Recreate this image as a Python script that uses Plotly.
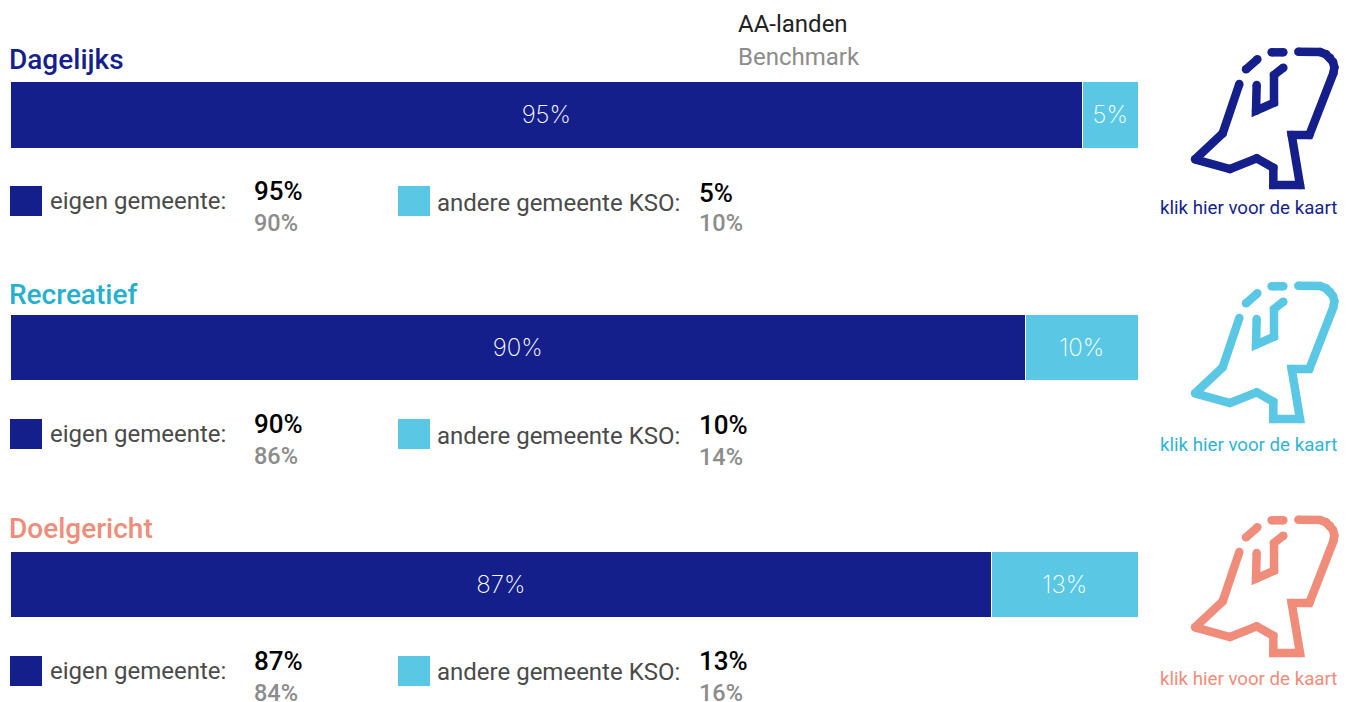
import plotly.graph_objects as go

W, H = 1349, 702

# ---- data ----
categories = ["Dagelijks", "Recreatief", "Doelgericht"]
eigen = [95, 90, 87]
andere = [5, 10, 13]
bench_eigen = [90, 86, 84]
bench_andere = [10, 14, 16]
label_eigen = "eigen gemeente:"
label_andere = "andere gemeente KSO:"
link_text = "klik hier voor de kaart"
head_main = "AA-landen"
head_bench = "Benchmark"

# ---- style ----
NAVY = "#151f8c"
LIGHT = "#5ac8e5"
title_colors = [NAVY, "#27afcf", "#f08c7a"]
icon_colors = [NAVY, LIGHT, "#f08c7a"]
link_colors = [NAVY, "#2fb5d5", "#f08c7a"]
bar_tops = [82, 315, 552]
bar_bottoms = [149, 381, 618]
title_y = [59, 294, 528]
sw_top = [186, 419, 656]
lab1_y = [201, 434, 671]
lab2_y = [203, 436, 672]
val_y = [[191, 223], [424, 456], [661, 693]]
val2_y = [[193, 223], [425, 457], [661, 693]]
link_y = [208, 445, 679]
icon_dy = [0, 234, 468]
BAR_L, BAR_R = 11, 1139

# icon outline in zoom-crop coordinates of the first icon (scale 3, origin 1150,30)
icon_parts = [
    [(268,162),(218,310),(135,388),(240,417),(320,385),(370,413),(370,465),(450,465),
     (425,315),(478,315),(550,130),(553,112),(549,96),(540,83),(528,73),(510,66),(445,65)],
    [(320,165),(318,242),(372,218),(372,135),(400,113)],
    [(288,118),(322,88)],
    [(365,67),(400,67)],
]

fig = go.Figure()

layout = dict(
    width=W, height=H, margin=dict(l=0, r=0, t=0, b=0, pad=0, autoexpand=False),
    paper_bgcolor="white", plot_bgcolor="rgba(0,0,0,0)",
    barmode="stack", bargap=0, showlegend=False,
    font=dict(family="Roboto", color="#444444"),
)

for i, cat in enumerate(categories):
    n = i + 1
    xa = "x" if i == 0 else f"x{n}"
    ya = "y" if i == 0 else f"y{n}"
    for val, col in ((eigen[i], NAVY), (andere[i], LIGHT)):
        fig.add_trace(go.Bar(
            x=[val], y=[cat], orientation="h", xaxis=xa, yaxis=ya,
            marker=dict(color=col, line=dict(color="white", width=1.5)),
            text=[f"{val}%"], textposition="inside", insidetextanchor="middle",
            textangle=0, constraintext="none",
            textfont=dict(family="Inter", size=24, color="white", weight=200),
            hoverinfo="skip",
        ))
    layout["xaxis" if i == 0 else f"xaxis{n}"] = dict(
        domain=[BAR_L / W, BAR_R / W], range=[0, 100], visible=False, fixedrange=True)
    layout["yaxis" if i == 0 else f"yaxis{n}"] = dict(
        domain=[1 - bar_bottoms[i] / H, 1 - bar_tops[i] / H], visible=False, fixedrange=True,
        anchor=xa)

# full-figure pixel overlay for texts, swatches and icons
layout["xaxis4"] = dict(domain=[0, 1], range=[0, W], visible=False, fixedrange=True)
layout["yaxis4"] = dict(domain=[0, 1], range=[H, 0], visible=False, fixedrange=True, anchor="x4")

annotations, shapes = [], []
PAD = 2  # annotation box padding

def txt(x, y, s, size, color, weight=400, anchor="left"):
    annotations.append(dict(
        x=x - PAD if anchor == "left" else x, y=y, xref="x4", yref="y4", text=s, showarrow=False,
        xanchor=anchor, yanchor="middle",
        font=dict(family="Roboto", size=size, color=color, weight=weight)))

txt(738, 24, head_main, 24, "#222222")
txt(738, 57, head_bench, 24, "#8c8c8c")

for i, cat in enumerate(categories):
    txt(9, title_y[i], cat, 28, title_colors[i], 500)
    for x0, c in ((10, NAVY), (398, LIGHT)):
        shapes.append(dict(type="rect", xref="x4", yref="y4", x0=x0, x1=x0 + 32,
                           y0=sw_top[i], y1=sw_top[i] + 30, fillcolor=c, line_width=0))
    txt(50, lab1_y[i], label_eigen, 24, "#4a4a4a")
    txt(436.5, lab2_y[i], label_andere, 24, "#4a4a4a")
    txt(254, val_y[i][0], f"{eigen[i]}%", 26, "black", 500)
    txt(254, val_y[i][1], f"{bench_eigen[i]}%", 23.5, "#8c8c8c", 500)
    txt(698.5, val2_y[i][0], f"{andere[i]}%", 26, "black", 500)
    txt(698.5, val2_y[i][1], f"{bench_andere[i]}%", 23.5, "#8c8c8c", 500)
    txt(1248.5, link_y[i], link_text, 18.7, link_colors[i], 400, "center")
    for part in icon_parts:
        xs = [1150 + p[0] / 3 for p in part]
        ys = [30 + p[1] / 3 + icon_dy[i] for p in part]
        fig.add_trace(go.Scatter(
            x=xs, y=ys, xaxis="x4", yaxis="y4", mode="lines+markers",
            line=dict(color=icon_colors[i], width=8.5),
            marker=dict(color=icon_colors[i], size=8.5, line_width=0),
            hoverinfo="skip",
        ))

layout["annotations"] = annotations
layout["shapes"] = shapes
fig.update_layout(**layout)
fig.write_html("out.html", config={"displayModeBar": False},
               post_script="document.body.style.margin='0';")
